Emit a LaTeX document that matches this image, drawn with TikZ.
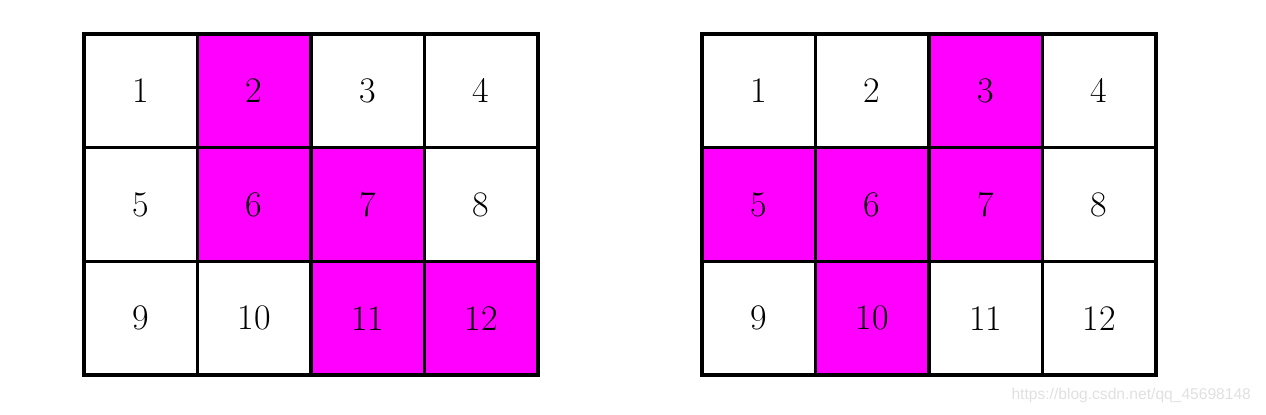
\documentclass[tikz,border=0pt]{standalone}
\usepackage{fontspec}
\newfontfamily\markfont{Liberation Sans}
\usepackage{tikz}
\usetikzlibrary{positioning}
\definecolor{hotpink}{RGB}{255,0,255}
\tikzset{
  gridcell/.style={draw, line width=1.6pt, minimum width=56.75pt, minimum height=56.83pt, inner sep=0pt, font=\fontsize{18}{20}\selectfont},
  hotcell/.style={gridcell, fill=hotpink}
}

\begin{document}
\begin{tikzpicture}[x=0.5pt, y=-0.5pt]
  \useasboundingbox (0,0) rectangle (1266,414);
  % left grid
  \foreach \n/\c/\r/\s in {1/0/0/gridcell, 2/1/0/hotcell, 3/2/0/gridcell, 4/3/0/gridcell,
                           5/0/1/gridcell, 6/1/1/hotcell, 7/2/1/hotcell, 8/3/1/gridcell,
                           9/0/2/gridcell, 10/1/2/gridcell, 11/2/2/hotcell, 12/3/2/hotcell}
    \node[\s] (L\n) at (140.75+113.5*\c, 90.83+113.67*\r) {\n};
  % right grid
  \foreach \n/\c/\r/\s in {1/0/0/gridcell, 2/1/0/gridcell, 3/2/0/hotcell, 4/3/0/gridcell,
                           5/0/1/hotcell, 6/1/1/hotcell, 7/2/1/hotcell, 8/3/1/gridcell,
                           9/0/2/gridcell, 10/1/2/hotcell, 11/2/2/gridcell, 12/3/2/gridcell}
    \node[\s] (R\n) at (758.75+113.5*\c, 90.83+113.67*\r) {\n};
  % watermark
  \node[text=black!12, font=\markfont\fontsize{7.8}{10}\selectfont, anchor=east] (mark) at (1258,395) {https://blog.csdn.net/qq\_45698148};
\end{tikzpicture}
\end{document}
